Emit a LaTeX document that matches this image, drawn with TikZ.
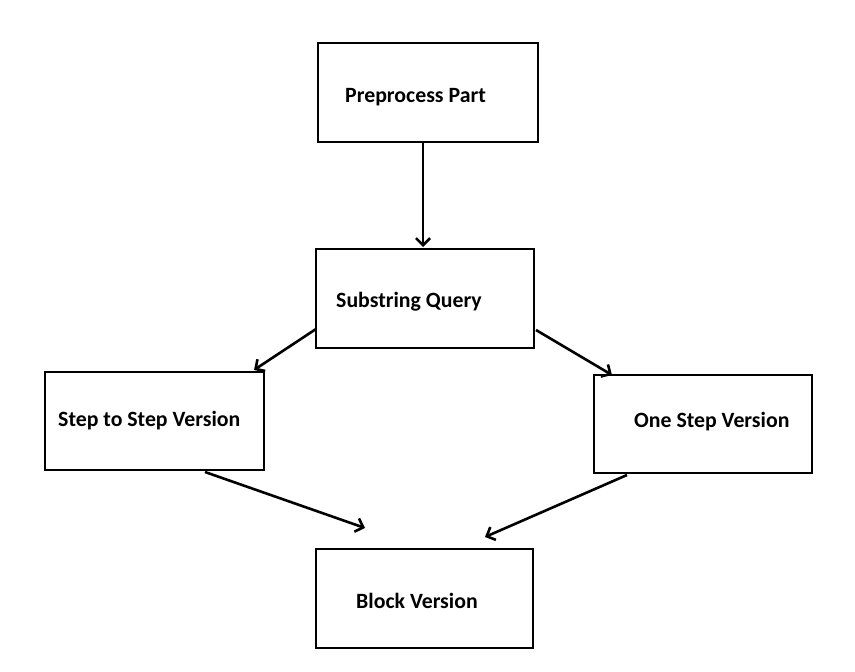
\documentclass[tikz,border=0pt]{standalone}
\usepackage{fontspec}
\setmainfont{Carlito}
\usetikzlibrary{arrows.meta}
\begin{document}
\begin{tikzpicture}[x=1pt,y=-1pt,
  box/.style={draw=black,line width=2.6pt,fill=white,inner sep=0pt,minimum width=218pt,minimum height=99pt},
  lbl/.style={font=\bfseries\fontsize{21.8}{24}\selectfont,anchor=west,inner sep=0pt},
  conn/.style={line width=2.6pt,-{Straight Barb[length=7pt,width=14pt,line width=2.6pt]}}]
\useasboundingbox (0,0) rectangle (855,672);
\node[box,minimum width=220pt] (ppb) at (428,92.5) {};
\node[box] (sqb) at (425,298.5) {};
\node[box,minimum width=219pt,minimum height=98pt] (ssb) at (154.5,421) {};
\node[box,minimum height=98pt] (osb) at (703,424) {};
\node[box,minimum width=217pt] (bvb) at (424.5,598.5) {};
\node[lbl] (pp) at (345,97) {Preprocess Part};
\node[lbl] (sq) at (336,302) {Substring Query};
\node[lbl] (ss) at (58,421) {Step to Step Version};
\node[lbl] (os) at (634,422) {One Step Version};
\node[lbl] (bv) at (356,601) {Block Version};
\coordinate (a1) at (423,142); \coordinate (b1) at (423,247);
\coordinate (a2) at (316,329); \coordinate (b2) at (254,370);
\coordinate (a3) at (536,330); \coordinate (b3) at (612,375);
\coordinate (a4) at (205,472); \coordinate (b4) at (365,528);
\coordinate (a5) at (627,475); \coordinate (b5) at (485,537);
\draw[conn] (a1) -- (b1);
\draw[conn] (a2) -- (b2);
\draw[conn] (a3) -- (b3);
\draw[conn] (a4) -- (b4);
\draw[conn] (a5) -- (b5);
\end{tikzpicture}
\end{document}
